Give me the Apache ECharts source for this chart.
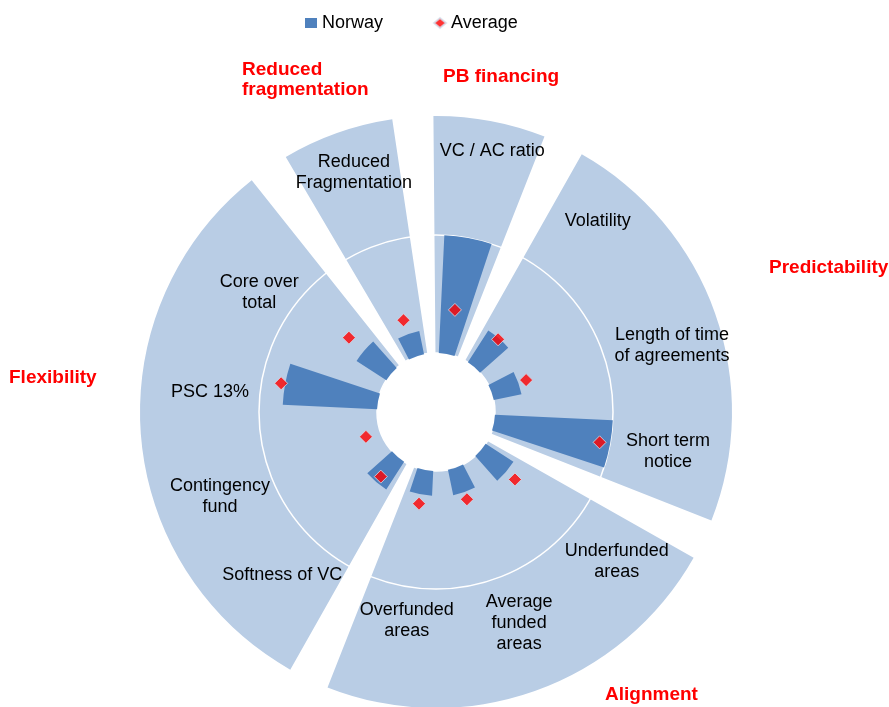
<!DOCTYPE html>
<html>
<head>
<meta charset="utf-8">
<script src="https://cdn.jsdelivr.net/npm/echarts@6/dist/echarts.min.js"></script>
<style>
  html, body { margin: 0; padding: 0; background: #fff; }
  #chart { width: 889px; height: 707px; }
</style>
</head>
<body>
<div id="chart"></div>
<script>
// indicators, clockwise from the top
const categories = [
  'VC / AC ratio', 'Volatility', 'Length of time\nof agreements', 'Short term\nnotice',
  'Underfunded\nareas', 'Average\nfunded\nareas', 'Overfunded\nareas',
  'Softness of VC', 'Contingency\nfund', 'PSC 13%', 'Core over\ntotal',
  'Reduced\nFragmentation'
];
const norway  = [1.00, 0.32, 0.24, 1.00, 0.28, 0.22, 0.21, 0.28, 0.00, 0.80, 0.30, 0.20];
const average = [0.38, 0.31, 0.31, 0.91, 0.38, 0.285, 0.29, 0.22, 0.13, 0.835, 0.47, 0.325];

// groups of indicators (how many indicators each one holds)
const groups     = ['PB financing', 'Predictability', 'Alignment', 'Flexibility', 'Reduced\nfragmentation'];
const groupSizes = [1, 3, 3, 4, 1];

const FONT      = 'Liberation Sans, Arial, sans-serif';
const LIGHT     = '#B9CDE5';
const DARK      = '#4F81BD';
const CENTER    = [436, 412];
const slotStart = 94.5;   // angle where the first indicator slot begins
const slotDeg   = 360 / categories.length;
const gapDeg    = 8;

// small hand nudges so the indicator names sit where Excel put them
const labelNudge = [
  [12, -22], [4, -6], [7, 15], [-7, -5], [-4, -8], [2, -18],
  [15, -30], [4, -22], [13, 3], [13, 24], [8, 38], [-1, -10]
];

// background sectors: one per group, a white gap between groups
const groupSlices = [];
groups.forEach((g, i) => {
  groupSlices.push({ name: g, value: groupSizes[i] * slotDeg - gapDeg, itemStyle: { color: LIGHT } });
  groupSlices.push({ name: 'gap' + i, value: gapDeg, itemStyle: { color: 'rgba(0,0,0,0)' } });
});

const titleStyle = text => ({ text, fill: '#FF0000', font: 'bold 19px ' + FONT, lineHeight: 20 });

const chart = echarts.init(document.getElementById('chart'));

chart.setOption({
  animation: false,
  textStyle: { fontFamily: FONT },
  legend: {
    top: 9,
    left: 300,
    itemWidth: 12,
    itemHeight: 10,
    itemGap: 50,
    textStyle: { fontSize: 18, color: '#000', fontFamily: FONT },
    data: [
      { name: 'Norway', icon: 'rect' },
      { name: 'Average', icon: 'diamond' }
    ]
  },
  polar: { center: CENTER, radius: [59, 177] },
  angleAxis: {
    type: 'category',
    data: categories,
    startAngle: slotStart,
    clockwise: true,
    axisLine: { show: false },
    axisTick: { show: false },
    axisLabel: { show: false },
    splitLine: { show: false }
  },
  radiusAxis: {
    min: 0,
    max: 1,
    interval: 1,
    z: 1,
    axisLine: { show: false },
    axisTick: { show: false },
    axisLabel: { show: false },
    splitLine: { show: true, lineStyle: { color: '#fff', width: 1.5 } }
  },
  graphic: [
    { type: 'text', left: 443, top: 67, style: titleStyle(groups[0]) },
    { type: 'text', left: 769, top: 258, style: titleStyle(groups[1]) },
    { type: 'text', left: 605, top: 685, style: titleStyle(groups[2]) },
    { type: 'text', left: 9, top: 368, style: titleStyle(groups[3]) },
    { type: 'text', left: 242, top: 60, style: titleStyle(groups[4]) }
  ],
  series: [
    {
      // light blue group sectors
      type: 'pie',
      z: 0,
      silent: true,
      center: CENTER,
      radius: [59, 296],
      startAngle: slotStart - gapDeg / 2,
      clockwise: true,
      sort: null,
      label: { show: false },
      labelLine: { show: false },
      data: groupSlices
    },
    {
      // transparent ring carrying the indicator names
      type: 'pie',
      z: 5,
      silent: true,
      center: CENTER,
      radius: [182, 298],
      startAngle: slotStart,
      clockwise: true,
      sort: null,
      itemStyle: { color: 'rgba(0,0,0,0)' },
      label: {
        show: true,
        position: 'inside',
        color: '#000',
        fontSize: 18,
        lineHeight: 21,
        fontFamily: FONT
      },
      labelLine: { show: false },
      labelLayout: p => ({ dx: labelNudge[p.dataIndex][0], dy: labelNudge[p.dataIndex][1] }),
      data: categories.map(c => ({ name: c, value: 1 }))
    },
    {
      name: 'Norway',
      type: 'bar',
      coordinateSystem: 'polar',
      z: 3,
      barWidth: '52%',
      itemStyle: { color: DARK },
      data: norway
    },
    {
      name: 'Average',
      type: 'scatter',
      coordinateSystem: 'polar',
      z: 4,
      symbol: 'diamond',
      symbolSize: 13,
      itemStyle: { color: '#FF0000', borderColor: '#D5DFEC', borderWidth: 1 },
      data: average.map((v, i) => [v, categories[i]])
    }
  ]
});
</script>
</body>
</html>
